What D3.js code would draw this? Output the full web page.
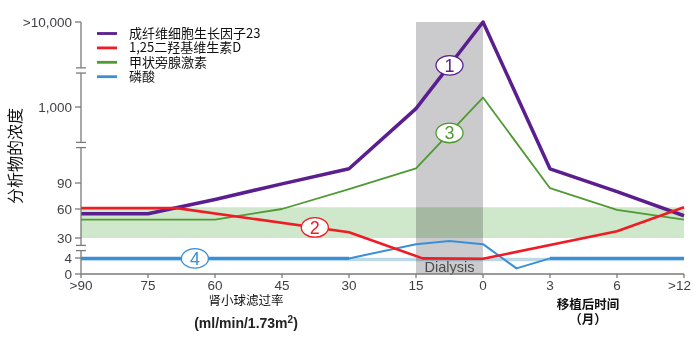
<!DOCTYPE html>
<html>
<head>
<meta charset="utf-8">
<script src="https://cdn.jsdelivr.net/npm/d3@7"></script>
<style>
  html, body { margin: 0; padding: 0; background: #fff; }
  svg { display: block; }
</style>
</head>
<body>
<svg id="chart" width="693" height="342"></svg>
<script>
// Position labels along the x axis: GFR stages, then months after transplant
const xLabels = [">90", "75", "60", "45", "30", "15", "0", "3", "6", ">12"];

// Broken y axis tick values and their printed labels
const yTickValues = [0, 4, 30, 60, 90, 1000, 10000];
const yTickLabels = ["0", "4", "30", "60", "90", "1,000", ">10,000"];

// Series: x positions (index along the axis) and concentrations
const fgf23X = [0, 1, 2, 3, 4, 5, 6, 7, 8, 9];
const fgf23Values = [55, 55, 71, 89, 260, 980, 10000, 260, 80, 53];

const vitDX = [0, 1, 1.43, 4, 5.1, 6, 8, 9];
const vitDValues = [61, 61, 61, 36, 3.9, 3.8, 37, 62];

const pthX = [0, 1, 2, 3, 4, 5, 6, 7, 8, 9];
const pthValues = [49, 49, 49, 60, 83, 266, 2000, 84, 59, 49];

const phosX = [0, 4, 5, 5.5, 6, 6.5, 7, 9];
const phosValues = [3.9, 3.9, 22, 26, 22, 1.4, 3.9, 3.9];

// Normal ranges and the dialysis window
const normalRangeMain = [30, 62];
const normalRangePhos = [3.2, 4.3];
const dialysisSpan = [5, 6];

const legendLabels = ["成纤维细胞生长因子23", "1,25二羟基维生素D", "甲状旁腺激素", "磷酸"];
const markerLabels = ["1", "2", "3", "4"];

const colors = ["#5a1e8e", "#ee1c24", "#4f9a33", "#3a8fd6"];
const widths = [3.5, 2.6, 1.8, 2];

const svg = d3.select("#chart");
svg.append("rect").attr("width", 693).attr("height", 342).attr("fill", "#fff");

const x = d3.scaleLinear().domain([0, xLabels.length - 1]).range([81, 684]);
// Piecewise scale for the broken axis
const y = d3.scaleLinear().domain(yTickValues).range([274, 258, 238, 209, 183, 107, 22]);

const plot = svg.append("g");

// Normal range bands
plot.append("rect")
  .attr("x", x(0)).attr("width", x(9) - x(0))
  .attr("y", y(normalRangeMain[1])).attr("height", y(normalRangeMain[0]) - y(normalRangeMain[1]))
  .attr("fill", "#cfe7ca");
plot.append("rect")
  .attr("x", x(0)).attr("width", x(9) - x(0))
  .attr("y", y(normalRangePhos[1])).attr("height", y(normalRangePhos[0]) - y(normalRangePhos[1]))
  .attr("fill", "#bcd9e8");

// Dialysis window
plot.append("rect")
  .attr("x", x(dialysisSpan[0])).attr("width", x(dialysisSpan[1]) - x(dialysisSpan[0]))
  .attr("y", y(10000)).attr("height", y(0) - y(10000))
  .attr("fill", "#cbcbcd")
  .style("mix-blend-mode", "multiply");

const series = [
  { xs: fgf23X, vs: fgf23Values },
  { xs: vitDX, vs: vitDValues },
  { xs: pthX, vs: pthValues },
  { xs: phosX, vs: phosValues }
];
const pts = series.map(s => s.xs.map((xi, i) => [x(xi), y(s.vs[i])]));
const line = d3.line();

// Draw order: PTH, phosphate, FGF23, 1,25D
[2, 3, 0, 1].forEach(k => {
  plot.append("path")
    .attr("d", line(pts[k]))
    .attr("fill", "none")
    .attr("stroke", colors[k])
    .attr("stroke-width", widths[k])
    .attr("stroke-linejoin", "round");
  if (k === 3) {
    // steady-state stretches of phosphate are drawn heavier
    [[0, 1], [6, 7]].forEach(([a, b]) => {
      plot.append("path")
        .attr("d", line(pts[3].slice(a, b + 1)))
        .attr("fill", "none")
        .attr("stroke", colors[3])
        .attr("stroke-width", 3.2);
    });
  }
});

// "Dialysis" caption inside the window
plot.append("text")
  .attr("x", (x(dialysisSpan[0]) + x(dialysisSpan[1])) / 2)
  .attr("y", 271.5)
  .attr("text-anchor", "middle")
  .attr("font-family", "Liberation Sans, Arial, sans-serif")
  .attr("font-size", 14.5)
  .attr("fill", "#4a4a4a")
  .text("Dialysis");

// Numbered markers placed on each series
function pointOn(k, xi) {
  const p = pts[k];
  const px = x(xi);
  for (let i = 0; i < p.length - 1; i++) {
    if (px >= p[i][0] && px <= p[i + 1][0]) {
      const t = (px - p[i][0]) / (p[i + 1][0] - p[i][0]);
      return [px, p[i][1] + t * (p[i + 1][1] - p[i][1])];
    }
  }
  return p[p.length - 1];
}
const markerAt = [5.5, 3.49, 5.5, 1.7];
markerAt.forEach((xi, k) => {
  const [cx, cy] = pointOn(k, xi);
  const g = plot.append("g").attr("transform", `translate(${cx},${cy})`);
  g.append("ellipse").attr("rx", 13.5).attr("ry", 9.8)
    .attr("fill", "#fff").attr("stroke", colors[k]).attr("stroke-width", 1.3);
  g.append("text").attr("text-anchor", "middle").attr("y", 6.3)
    .attr("font-family", "Liberation Sans, Arial, sans-serif")
    .attr("font-size", 18).attr("fill", colors[k])
    .text(markerLabels[k]);
});

// Axes
const axisColor = "#7a7a7a";
const ax = svg.append("g").attr("stroke", axisColor).attr("stroke-width", 1.3).attr("fill", "none");

// y axis with breaks
const breaks = [
  [y(30), y(4), 0.5],
  [y(90), y(1000), 0.5],
  [y(1000), y(10000), 0.43]
].map(([a, b, f]) => a + (b - a) * f);
const gap = 2.6;
let segStart = y(0);
breaks.forEach(bp => {
  ax.append("line").attr("x1", 81).attr("x2", 81).attr("y1", segStart).attr("y2", bp + gap);
  ax.append("line").attr("x1", 76).attr("x2", 86).attr("y1", bp + gap).attr("y2", bp + gap);
  ax.append("line").attr("x1", 76).attr("x2", 86).attr("y1", bp - gap).attr("y2", bp - gap);
  segStart = bp - gap;
});
ax.append("line").attr("x1", 81).attr("x2", 81).attr("y1", segStart).attr("y2", y(10000));

yTickValues.forEach((v, i) => {
  ax.append("line").attr("x1", 75).attr("x2", 81).attr("y1", y(v)).attr("y2", y(v));
  svg.append("text")
    .attr("x", 72).attr("y", y(v) + 4.5)
    .attr("text-anchor", "end")
    .attr("font-family", "Liberation Sans, Arial, sans-serif")
    .attr("font-size", 13.5).attr("fill", "#3f3f46")
    .text(yTickLabels[i]);
});

// x axis
ax.append("line").attr("x1", 81).attr("x2", 684).attr("y1", y(0)).attr("y2", y(0));
xLabels.forEach((lab, i) => {
  ax.append("line").attr("x1", x(i)).attr("x2", x(i)).attr("y1", y(0)).attr("y2", y(0) + 4);
  const last = i === xLabels.length - 1;
  svg.append("text")
    .attr("x", last ? 691 : x(i)).attr("y", 290)
    .attr("text-anchor", last ? "end" : "middle")
    .attr("font-family", "Liberation Sans, Arial, sans-serif")
    .attr("font-size", 13.5).attr("fill", "#3f3f46")
    .text(lab);
});

const cjk = "Noto Sans CJK SC, sans-serif";

// Axis titles
svg.append("text")
  .attr("transform", "translate(21,156) rotate(-90)")
  .attr("text-anchor", "middle")
  .attr("font-family", cjk).attr("font-size", 16).attr("fill", "#111")
  .text("分析物的浓度");

svg.append("text")
  .attr("x", 246).attr("y", 305)
  .attr("text-anchor", "middle")
  .attr("font-family", cjk).attr("font-size", 12.5).attr("fill", "#111")
  .text("肾小球滤过率");

const unit = svg.append("text")
  .attr("x", 246).attr("y", 328)
  .attr("text-anchor", "middle")
  .attr("font-family", "Liberation Sans, Arial, sans-serif")
  .attr("font-size", 14).attr("font-weight", "bold").attr("fill", "#222");
unit.append("tspan").text("(ml/min/1.73m");
unit.append("tspan").attr("dy", -5).attr("font-size", 10).text("2");
unit.append("tspan").attr("dy", 5).text(")");

svg.append("text")
  .attr("x", 588).attr("y", 309)
  .attr("text-anchor", "middle")
  .attr("font-family", cjk).attr("font-size", 12.5).attr("font-weight", "bold").attr("fill", "#111")
  .text("移植后时间");
svg.append("text")
  .attr("x", 588).attr("y", 324)
  .attr("text-anchor", "middle")
  .attr("font-family", cjk).attr("font-size", 12.5).attr("font-weight", "bold").attr("fill", "#111")
  .text("（月）");

// Legend
const legend = svg.append("g");
legendLabels.forEach((lab, k) => {
  const ly = 33.5 + k * 14.4;
  legend.append("line")
    .attr("x1", 97).attr("x2", 117).attr("y1", ly).attr("y2", ly)
    .attr("stroke", colors[k]).attr("stroke-width", 2.8);
  legend.append("text")
    .attr("x", 129).attr("y", ly + 4.5)
    .attr("font-family", cjk).attr("font-size", 13).attr("fill", "#111")
    .text(lab);
});
</script>
</body>
</html>
